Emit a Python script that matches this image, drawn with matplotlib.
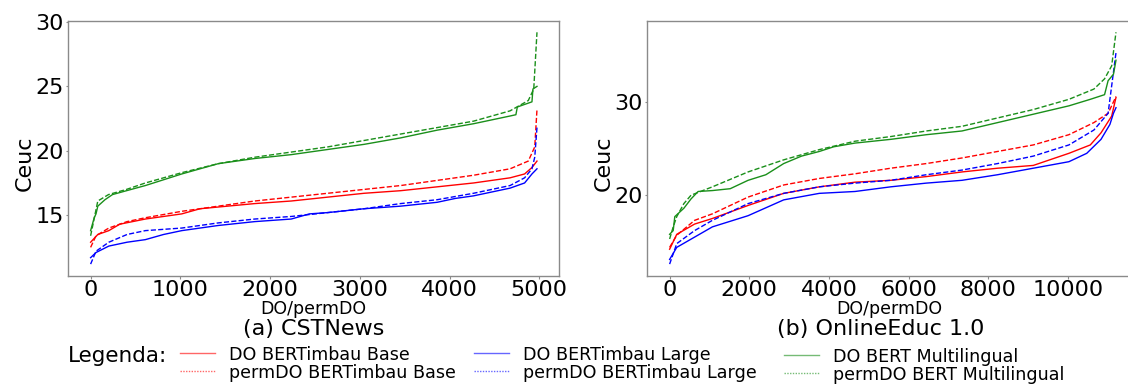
import matplotlib
matplotlib.use("Agg")
import matplotlib.pyplot as plt
from matplotlib.lines import Line2D

# ---------------- data ----------------
# (a) CSTNews
cst_x_green_perm = [0, 80, 200, 400, 610, 1016, 1423, 1830, 2236, 2642, 3049, 3455, 3862, 4268, 4675, 4878, 4939, 4975]
cst_green_perm   = [13.4, 16.1, 16.6, 17.0, 17.5, 18.3, 19.0, 19.5, 19.9, 20.3, 20.8, 21.3, 21.8, 22.3, 23.1, 23.9, 24.8, 29.2]
cst_x_green_do   = [0, 40, 60, 80, 160, 244, 400, 610, 1016, 1423, 1830, 2236, 2642, 3049, 3455, 3862, 4268, 4675, 4740, 4756, 4919, 4930, 4975]
cst_green_do     = [13.8, 14.8, 15.1, 15.7, 16.2, 16.6, 16.9, 17.3, 18.2, 19.0, 19.4, 19.7, 20.1, 20.5, 21.0, 21.6, 22.1, 22.7, 22.8, 23.4, 23.8, 24.8, 25.0]
cst_x_red_do     = [0, 80, 203, 325, 610, 1016, 1220, 1830, 2236, 2642, 3049, 3455, 3862, 4268, 4675, 4837, 4919, 4975]
cst_red_do       = [12.9, 13.5, 13.8, 14.3, 14.7, 15.1, 15.5, 15.9, 16.1, 16.4, 16.7, 16.9, 17.2, 17.5, 17.9, 18.2, 18.7, 19.2]
cst_x_red_perm   = [0, 60, 203, 406, 610, 1016, 1423, 1830, 2236, 2642, 3049, 3455, 3862, 4268, 4675, 4878, 4950, 4975]
cst_red_perm     = [12.5, 13.4, 14.0, 14.5, 14.8, 15.3, 15.7, 16.1, 16.4, 16.7, 17.0, 17.3, 17.7, 18.1, 18.6, 19.2, 20.3, 23.2]
cst_x_blue_do    = [0, 60, 203, 406, 610, 813, 1016, 1423, 1830, 2236, 2439, 2642, 3049, 3455, 3862, 4065, 4268, 4675, 4837, 4919, 4975]
cst_blue_do      = [11.7, 12.1, 12.6, 12.9, 13.1, 13.5, 13.8, 14.2, 14.5, 14.7, 15.1, 15.2, 15.5, 15.7, 16.0, 16.3, 16.5, 17.1, 17.5, 18.2, 18.6]
cst_x_blue_perm  = [0, 60, 203, 406, 610, 1016, 1423, 1830, 2236, 2642, 3049, 3455, 3862, 4268, 4675, 4837, 4919, 4950, 4975]
cst_blue_perm    = [11.2, 12.2, 12.9, 13.5, 13.8, 14.0, 14.4, 14.7, 14.9, 15.2, 15.5, 15.9, 16.2, 16.7, 17.3, 17.9, 18.6, 19.5, 21.8]

# (b) OnlineEduc 1.0
oe_x_green_perm = [0, 90, 179, 358, 537, 1074, 1970, 2865, 3760, 4655, 5551, 6446, 7341, 8236, 9132, 10027, 10654, 10922, 11101, 11209]
oe_green_perm   = [15.3, 16.6, 17.7, 19.1, 20.0, 20.9, 22.5, 23.8, 24.9, 25.8, 26.3, 26.9, 27.4, 28.3, 29.2, 30.3, 31.4, 32.5, 33.9, 37.5]
oe_x_green_do   = [0, 90, 130, 358, 537, 716, 1074, 1522, 1970, 2417, 2865, 3312, 3760, 4118, 4655, 5551, 6446, 7341, 8236, 9132, 10027, 10564, 10922, 11011, 11146, 11209]
oe_green_do     = [15.8, 16.2, 17.7, 18.6, 19.6, 20.4, 20.5, 20.7, 21.6, 22.2, 23.4, 24.2, 24.7, 25.2, 25.6, 26.0, 26.5, 26.9, 27.8, 28.7, 29.6, 30.3, 30.8, 32.3, 33.0, 34.5]
oe_x_red_perm   = [0, 179, 627, 1074, 1970, 2865, 3760, 4655, 5551, 6446, 7341, 8236, 9132, 10027, 10654, 11011, 11209]
oe_red_perm     = [14.4, 15.7, 17.3, 18.0, 19.8, 21.1, 21.8, 22.3, 22.9, 23.4, 24.0, 24.7, 25.4, 26.5, 27.8, 28.8, 30.6]
oe_x_red_do     = [0, 179, 627, 1074, 1970, 2865, 3760, 4655, 5551, 6446, 7341, 8236, 9132, 10027, 10564, 10833, 11101, 11209]
oe_red_do       = [14.2, 15.8, 16.9, 17.5, 18.9, 20.2, 20.9, 21.4, 21.6, 22.0, 22.5, 22.9, 23.2, 24.5, 25.4, 26.7, 28.5, 30.5]
oe_x_blue_perm  = [0, 179, 627, 1074, 1970, 2865, 3760, 4655, 5551, 6446, 7341, 8236, 9132, 10027, 10654, 11011, 11209]
oe_blue_perm    = [12.6, 14.8, 16.2, 17.3, 19.1, 20.2, 20.9, 21.3, 21.6, 22.2, 22.7, 23.4, 24.2, 25.4, 27.0, 28.8, 35.3]
oe_x_blue_do    = [0, 179, 627, 1074, 1970, 2865, 3760, 4655, 5551, 6446, 7341, 8236, 9132, 10027, 10475, 10833, 11056, 11146, 11209]
oe_blue_do      = [13.1, 14.4, 15.5, 16.6, 17.8, 19.5, 20.2, 20.4, 20.9, 21.3, 21.6, 22.2, 22.9, 23.6, 24.5, 26.0, 27.6, 28.8, 29.4]

labels = ["DO BERTimbau Base", "permDO BERTimbau Base",
          "DO BERTimbau Large", "permDO BERTimbau Large",
          "DO BERT Multilingual", "permDO BERT Multilingual"]
captions = ["(a) CSTNews", "(b) OnlineEduc 1.0"]
xlabel = "DO/permDO"
ylabel = "Ceuc"
cst_xticks = [0, 1000, 2000, 3000, 4000, 5000]
cst_yticks = [15, 20, 25, 30]
oe_xticks = [0, 2000, 4000, 6000, 8000, 10000]
oe_yticks = [20, 30]

# ---------------- figure ----------------
W, H = 1128, 387
fig = plt.figure(figsize=(W / 100, H / 100), dpi=100)

def axrect(l, r, t, b):
    return [l / W, 1 - b / H, (r - l) / W, (b - t) / H]

axL = fig.add_axes(axrect(68.3, 559.3, 20.7, 275.7))
axR = fig.add_axes(axrect(647.3, 1138.3, 20.7, 275.7))

RED, BLUE, GREEN = "red", "blue", "#1a8f1a"
LW = 1.0

def draw(ax, series):
    for xs, ys, c, ls in series:
        ax.plot(xs, ys, color=c, linestyle=ls, linewidth=LW)

draw(axL, [
    (cst_x_red_do, cst_red_do, RED, "-"),
    (cst_x_red_perm, cst_red_perm, RED, "--"),
    (cst_x_blue_do, cst_blue_do, BLUE, "-"),
    (cst_x_blue_perm, cst_blue_perm, BLUE, "--"),
    (cst_x_green_do, cst_green_do, GREEN, "-"),
    (cst_x_green_perm, cst_green_perm, GREEN, "--"),
])
draw(axR, [
    (oe_x_red_do, oe_red_do, RED, "-"),
    (oe_x_red_perm, oe_red_perm, RED, "--"),
    (oe_x_blue_do, oe_blue_do, BLUE, "-"),
    (oe_x_blue_perm, oe_blue_perm, BLUE, "--"),
    (oe_x_green_do, oe_green_do, GREEN, "-"),
    (oe_x_green_perm, oe_green_perm, GREEN, "--"),
])

axL.set_xticks(cst_xticks)
axL.set_yticks(cst_yticks)
axR.set_xticks(oe_xticks)
axR.set_yticks(oe_yticks)

for ax in (axL, axR):
    for s in ax.spines.values():
        s.set_color("#8a8a8a")
        s.set_linewidth(1.0)
    ax.tick_params(axis="both", labelsize=16, color="#8a8a8a", length=1.8, width=0.8, pad=1.5)
    ax.set_ylabel(ylabel, fontsize=16)
    ax.yaxis.set_label_coords(-0.068, 0.44)

axL.set_xlabel(xlabel, fontsize=12.5, labelpad=0)
axR.set_xlabel(xlabel, fontsize=12.5, labelpad=0)
axR.xaxis.set_label_coords((889 - 647.3) / 491.0, -0.095)
axR.xaxis.label.set_va("top")
axL.xaxis.set_label_coords(0.5, -0.095)
axL.xaxis.label.set_va("top")

# captions
fig.text(314 / W, 1 - 329 / H, captions[0], ha="center", va="center", fontsize=16)
fig.text(881 / W, 1 - 329 / H, captions[1], ha="center", va="center", fontsize=16)

# legend
fig.text(117 / W, 1 - 356 / H, "Legenda:", ha="center", va="center", fontsize=15.5)
colors = [RED, BLUE, GREEN]
col_x = [180, 474, 784]
col_top = [345.5, 345.5, 347.5]
for i, c in enumerate(colors):
    hs = [Line2D([], [], color=c, lw=1.0, alpha=0.6, linestyle="-"),
          Line2D([], [], color=c, lw=1.0, alpha=0.6, linestyle=(0, (1, 1)))]
    fig.legend(hs, labels[2 * i:2 * i + 2], loc="upper left",
               bbox_to_anchor=(col_x[i] / W, 1 - col_top[i] / H),
               frameon=False, fontsize=12.6, labelspacing=0.0,
               handlelength=2.0, handletextpad=0.8, borderpad=0.0,
               borderaxespad=0.0)

fig.savefig("out.png", dpi=100)
